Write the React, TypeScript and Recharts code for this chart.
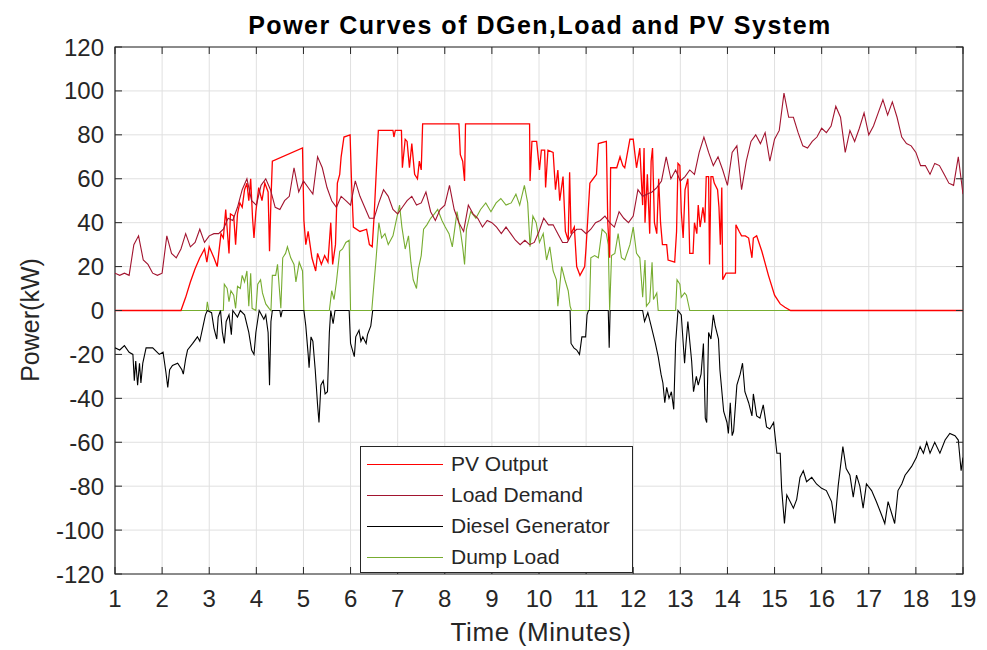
import React from 'react';
import { LineChart, Line, XAxis, YAxis, CartesianGrid, ReferenceArea } from 'recharts';

// time axis (minutes) and power axis (kW) ticks
const minuteTicks = [1, 2, 3, 4, 5, 6, 7, 8, 9, 10, 11, 12, 13, 14, 15, 16, 17, 18, 19];
const powerTicks = [-120, -100, -80, -60, -40, -20, 0, 20, 40, 60, 80, 100, 120];

// load demand sampled every 0.1 min from t = 1
const LOAD_START = 1;
const LOAD_STEP = 0.1;
const loadDemand = [
  17, 16, 17, 16, 30, 34, 23, 21, 17, 16,
  17, 34, 26, 24, 28, 35, 29, 31, 37, 31,
  34, 35, 35, 37, 42, 41, 47, 55, 60, 50,
  48, 57, 60, 55, 47, 46, 50, 52, 65, 54,
  59, 56, 53, 70, 65, 56, 50, 47, 52, 50,
  48, 59, 52, 47, 42, 42, 49, 55, 52, 46,
  44, 47, 50, 52, 48, 49, 54, 45, 41, 46,
  48, 57, 46, 40, 36, 48, 44, 42, 38, 41,
  40, 38, 35, 38, 35, 32, 30, 32, 30, 31,
  36, 42, 39, 39, 35, 31, 31, 35, 37, 37,
  35, 37, 40, 41, 43, 40, 38, 45, 42, 40,
  43, 55, 52, 53, 54, 56, 59, 70, 60, 64,
  59, 61, 64, 62, 72, 79, 72, 66, 70, 64,
  57, 72, 75, 55, 68, 77, 80, 76, 81, 68,
  78, 82, 99, 88, 88, 81, 75, 74, 77, 79,
  83, 81, 84, 93, 88, 72, 82, 77, 83, 90,
  80, 84, 90, 96, 89, 95, 88, 79, 76, 75,
  72, 66, 66, 62, 67, 66, 62, 58, 57, 70,
  53,
];

// [minute, kW] points
const pvOutput: [number, number][] = [
  [1, 0], [2.4, 0], [2.5, 6], [2.6, 13], [2.7, 19], [2.8, 24], [2.9, 28], [2.95, 22], [3.0, 29],
  [3.1, 24], [3.17, 20], [3.25, 35], [3.3, 33], [3.35, 46], [3.42, 26], [3.45, 44], [3.52, 43],
  [3.56, 30], [3.6, 44], [3.65, 49], [3.7, 47], [3.75, 55], [3.8, 58], [3.84, 50], [3.88, 60],
  [3.92, 42], [3.95, 33], [3.99, 45], [4.05, 56], [4.12, 50], [4.18, 58], [4.25, 54], [4.28, 27],
  [4.31, 50], [4.34, 68], [4.98, 74], [5.01, 41], [5.05, 30], [5.1, 36], [5.18, 24], [5.26, 18],
  [5.3, 26], [5.38, 21], [5.45, 25], [5.52, 22], [5.58, 40], [5.62, 21], [5.68, 30], [5.72, 58],
  [5.77, 62], [5.8, 70], [5.86, 79], [5.99, 80], [6.02, 59], [6.06, 38], [6.2, 36], [6.34, 37],
  [6.4, 30], [6.46, 29], [6.5, 43], [6.55, 65], [6.59, 82], [6.9, 82], [6.92, 79], [6.95, 82],
  [7.08, 82], [7.1, 65], [7.16, 78], [7.2, 77], [7.25, 65], [7.3, 76], [7.36, 62], [7.42, 60],
  [7.46, 68], [7.5, 64], [7.53, 85], [8.3, 85], [8.33, 71], [8.38, 68], [8.42, 59], [8.44, 85],
  [9.8, 85], [9.81, 59], [9.85, 77], [9.95, 77], [10.01, 64], [10.05, 73], [10.12, 73], [10.14, 56],
  [10.19, 73], [10.3, 72], [10.35, 55], [10.4, 64], [10.44, 50], [10.51, 61], [10.56, 36], [10.62, 32],
  [10.65, 63], [10.68, 35], [10.75, 38], [10.8, 20], [10.87, 16], [10.97, 20], [11.0, 29], [11.08, 58],
  [11.15, 60], [11.22, 62], [11.26, 76], [11.43, 77], [11.46, 40], [11.5, 24], [11.52, 65], [11.65, 65],
  [11.72, 70], [11.78, 66], [11.82, 65], [11.93, 78], [12.0, 78], [12.07, 65], [12.14, 74], [12.2, 48],
  [12.23, 74], [12.25, 40], [12.3, 62], [12.35, 35], [12.38, 68], [12.41, 74], [12.45, 40], [12.5, 35],
  [12.54, 60], [12.58, 40], [12.62, 30], [12.71, 30], [12.74, 23], [12.88, 22], [12.92, 36], [12.95, 67],
  [12.99, 66], [13.02, 45], [13.06, 33], [13.1, 55], [13.16, 60], [13.2, 26], [13.27, 26], [13.3, 40],
  [13.35, 35], [13.38, 48], [13.42, 38], [13.48, 47], [13.52, 40], [13.55, 61], [13.6, 61], [13.62, 21],
  [13.65, 61], [13.69, 61], [13.72, 58], [13.79, 55], [13.82, 47], [13.85, 30], [13.88, 56], [13.9, 14],
  [13.97, 17], [14.17, 17], [14.18, 39], [14.25, 36], [14.3, 34], [14.38, 34], [14.45, 33], [14.52, 24],
  [14.55, 33], [14.62, 34], [14.73, 27], [14.87, 16], [15.0, 7], [15.12, 3], [15.22, 1.5], [15.34, 0],
  [19, 0],
];

const dieselGenerator: [number, number][] = [
  [1, -17], [1.1, -18], [1.2, -16], [1.3, -19], [1.38, -20], [1.41, -32], [1.44, -23], [1.48, -34],
  [1.52, -24], [1.55, -33], [1.59, -24], [1.66, -17], [1.8, -17], [1.94, -20], [2.02, -19], [2.08, -28],
  [2.12, -35], [2.16, -27], [2.22, -25], [2.33, -24], [2.42, -27], [2.45, -29], [2.5, -22], [2.54, -18],
  [2.65, -15], [2.75, -12], [2.8, -14], [2.86, -8], [2.92, -2], [2.96, 0], [3.05, -1], [3.1, -8],
  [3.16, -13], [3.19, -3], [3.24, 0], [3.28, -10], [3.32, -15], [3.36, -5], [3.42, -2], [3.47, -11],
  [3.5, 0], [3.6, -3], [3.66, 0], [3.75, -2], [3.84, -10], [3.9, -18], [3.95, -20], [3.99, -10],
  [4.06, 0], [4.16, -4], [4.2, -2], [4.25, -10], [4.28, -34], [4.31, -5], [4.34, 0], [4.5, 0],
  [4.52, -3], [4.55, 0], [5.01, 0], [5.05, -7], [5.1, -20], [5.12, -26], [5.16, -12], [5.2, -14],
  [5.25, -27], [5.3, -43], [5.33, -51], [5.37, -34], [5.42, -32], [5.46, -38], [5.51, -37], [5.55, -10],
  [5.58, 0], [5.63, -6], [5.67, 0], [5.97, 0], [6.0, -15], [6.08, -21], [6.11, -12], [6.18, -9],
  [6.22, -14], [6.26, -12], [6.33, -15], [6.36, -11], [6.43, -7], [6.47, 0], [10.66, 0], [10.68, -15],
  [10.74, -17], [10.8, -18], [10.86, -20], [10.91, -12], [10.99, -12], [11.02, -2], [11.05, 0], [11.47, 0],
  [11.49, -17], [11.51, 0], [12.2, 0], [12.24, -5], [12.31, -1], [12.38, -7], [12.47, -15], [12.53, -21],
  [12.59, -29], [12.63, -33], [12.67, -42], [12.71, -35], [12.76, -40], [12.81, -37], [12.86, -45], [12.9, -15],
  [12.95, 0], [13.02, -2], [13.09, -24], [13.12, -15], [13.16, -5], [13.24, -23], [13.28, -37], [13.34, -30],
  [13.38, -34], [13.44, -29], [13.49, -15], [13.53, -49], [13.56, -51], [13.6, -10], [13.65, -13], [13.7, -2],
  [13.74, -7], [13.81, -13], [13.84, -27], [13.92, -46], [13.99, -51], [14.02, -56], [14.06, -42], [14.1, -57],
  [14.13, -55], [14.2, -34], [14.27, -29], [14.32, -24], [14.37, -37], [14.45, -42], [14.52, -48], [14.55, -38],
  [14.62, -48], [14.69, -49], [14.76, -43], [14.83, -53], [14.9, -54], [14.98, -51], [15.05, -65], [15.12, -65],
  [15.15, -81], [15.21, -97], [15.26, -84], [15.33, -87], [15.4, -90], [15.47, -86], [15.54, -76], [15.61, -73],
  [15.68, -78], [15.79, -76], [15.89, -79], [16.0, -81], [16.1, -82], [16.21, -87], [16.28, -97], [16.35, -80],
  [16.45, -62], [16.52, -72], [16.6, -75], [16.67, -85], [16.74, -75], [16.81, -80], [16.88, -90], [16.95, -79],
  [17.06, -82], [17.16, -87], [17.27, -93], [17.34, -97], [17.41, -87], [17.48, -92], [17.55, -97], [17.62, -82],
  [17.7, -79], [17.77, -75], [17.84, -73], [17.91, -71], [18.01, -67], [18.09, -62], [18.16, -65], [18.23, -60],
  [18.3, -65], [18.4, -60], [18.51, -65], [18.62, -59], [18.72, -56], [18.83, -57], [18.9, -59], [18.96, -73],
  [19, -67],
];

const dumpLoad: [number, number][] = [
  [1, 0], [2.94, 0], [2.96, 4], [2.99, 0], [3.3, 0], [3.32, 12], [3.38, 10], [3.42, 4], [3.46, 9],
  [3.52, 7], [3.56, 1], [3.6, 11], [3.66, 10], [3.7, 16], [3.75, 13], [3.8, 18], [3.84, 2], [3.88, 17],
  [3.91, 1], [3.99, 0], [4.03, 12], [4.09, 14], [4.13, 8], [4.2, 3], [4.27, 1], [4.31, 0], [4.34, 16],
  [4.41, 16], [4.45, 21], [4.52, 1], [4.56, 24], [4.62, 26], [4.66, 29], [4.73, 24], [4.8, 21], [4.84, 13],
  [4.91, 22], [4.98, 18], [5.01, 0], [5.55, 0], [5.6, 9], [5.65, 5], [5.7, 13], [5.77, 27], [5.83, 28],
  [5.9, 31], [5.97, 32], [6.0, 0], [6.45, 0], [6.5, 13], [6.54, 23], [6.6, 40], [6.66, 33], [6.73, 35],
  [6.8, 30], [6.9, 34], [6.96, 40], [7.04, 48], [7.09, 38], [7.16, 28], [7.23, 34], [7.28, 22], [7.33, 14],
  [7.4, 10], [7.44, 19], [7.5, 25], [7.55, 37], [7.62, 39], [7.7, 42], [7.78, 44], [7.85, 46], [7.94, 41],
  [8.01, 38], [8.09, 35], [8.16, 29], [8.26, 45], [8.34, 35], [8.38, 29], [8.42, 21], [8.46, 37], [8.55, 45],
  [8.66, 42], [8.76, 46], [8.87, 49], [8.98, 45], [9.09, 49], [9.19, 51], [9.3, 48], [9.41, 49], [9.51, 53],
  [9.59, 48], [9.69, 57], [9.76, 49], [9.81, 29], [9.87, 43], [9.94, 40], [10.01, 31], [10.09, 35], [10.16, 23],
  [10.23, 29], [10.3, 18], [10.37, 14], [10.4, 2], [10.48, 20], [10.55, 14], [10.62, 9], [10.66, 2], [10.69, 0],
  [11.07, 0], [11.1, 24], [11.18, 25], [11.26, 24], [11.34, 37], [11.43, 35], [11.47, 30], [11.5, 0], [11.54, 25],
  [11.61, 26], [11.68, 35], [11.75, 24], [11.82, 23], [11.93, 30], [12.0, 38], [12.07, 26], [12.14, 24], [12.2, 6],
  [12.25, 23], [12.28, 2], [12.35, 4], [12.4, 22], [12.43, 5], [12.5, 8], [12.53, 0], [12.9, 0], [12.93, 14],
  [12.99, 12], [13.02, 6], [13.09, 8], [13.13, 7], [13.2, 0], [19, 0],
];

const series = [
  { name: 'PV Output', color: '#ff0000' },
  { name: 'Load Demand', color: '#a2142f' },
  { name: 'Diesel Generator', color: '#000000' },
  { name: 'Dump Load', color: '#77ac30' },
];

const AXIS = '#262626';
const FONT = '"Liberation Sans", Arial, Helvetica, sans-serif';
const PLOT = { left: 115, right: 963, top: 47, bottom: 574 };

const toRows = (pts: [number, number][]) => pts.map(([t, kw]) => ({ t, kw }));
const pvRows = toRows(pvOutput);
const loadRows = loadDemand.map((kw, i) => ({ t: +(LOAD_START + i * LOAD_STEP).toFixed(2), kw }));
const dieselRows = toRows(dieselGenerator);
const dumpRows = toRows(dumpLoad);

const XTick = (props: any) => {
  const { x, payload } = props;
  return (
    <g>
      <line x1={x} x2={x} y1={PLOT.bottom} y2={PLOT.bottom - 7} stroke={AXIS} />
      <line x1={x} x2={x} y1={PLOT.top} y2={PLOT.top + 7} stroke={AXIS} />
      <text x={x} y={607} textAnchor="middle" fontSize={24} fill={AXIS} fontFamily={FONT}>
        {payload.value}
      </text>
    </g>
  );
};

const YTick = (props: any) => {
  const { y, payload } = props;
  return (
    <g>
      <line x1={PLOT.left} x2={PLOT.left + 7} y1={y} y2={y} stroke={AXIS} />
      <line x1={PLOT.right - 7} x2={PLOT.right} y1={y} y2={y} stroke={AXIS} />
      <text x={104} y={y + 8.5} textAnchor="end" fontSize={24} fill={AXIS} fontFamily={FONT}>
        {payload.value}
      </text>
    </g>
  );
};

const LegendBox: React.FC = () => (
  <div
    style={{
      position: 'absolute',
      left: 360,
      top: 446,
      width: 273,
      height: 127,
      boxSizing: 'border-box',
      border: `1px solid ${AXIS}`,
      background: '#fff',
    }}
  >
    {series.map((s, i) => (
      <div key={s.name} style={{ position: 'absolute', left: 0, top: 17 + i * 31, width: '100%' }}>
        <div style={{ position: 'absolute', left: 6, top: 0, width: 76, height: 1, background: s.color }} />
        <div
          style={{
            position: 'absolute',
            left: 90,
            top: -12,
            fontSize: 21,
            lineHeight: '24px',
            color: AXIS,
            whiteSpace: 'nowrap',
          }}
        >
          {s.name}
        </div>
      </div>
    ))}
  </div>
);

export default function App() {
  return (
    <div style={{ position: 'absolute', left: 0, top: 0, width: 987, height: 650, background: '#fff', fontFamily: FONT }}>
      <LineChart width={987} height={650} margin={{ top: 47, right: 24, bottom: 46, left: 55 }}>
        <CartesianGrid stroke="#e0e0e0" strokeWidth={1} />
        <XAxis
          type="number"
          dataKey="t"
          domain={[1, 19]}
          ticks={minuteTicks}
          interval={0}
          allowDataOverflow
          axisLine={false}
          tickLine={false}
          tickSize={0}
          height={30}
          tick={<XTick />}
        />
        <YAxis
          type="number"
          domain={[-120, 120]}
          ticks={powerTicks}
          interval={0}
          allowDataOverflow
          axisLine={false}
          tickLine={false}
          tickSize={0}
          width={60}
          tick={<YTick />}
        />
        <ReferenceArea x1={1} x2={19} y1={-120} y2={120} fill="none" fillOpacity={0} stroke={AXIS} strokeWidth={1.2} ifOverflow="visible" />
        {/* dump load goes underneath so the zero line shows the PV / diesel colour */}
        <Line data={dumpRows} dataKey="kw" name="Dump Load" stroke={series[3].color} strokeWidth={1.1} dot={false} isAnimationActive={false} type="linear" />
        <Line data={pvRows} dataKey="kw" name="PV Output" stroke={series[0].color} strokeWidth={1.3} dot={false} isAnimationActive={false} type="linear" />
        <Line data={loadRows} dataKey="kw" name="Load Demand" stroke={series[1].color} strokeWidth={1.1} dot={false} isAnimationActive={false} type="linear" />
        <Line data={dieselRows} dataKey="kw" name="Diesel Generator" stroke={series[2].color} strokeWidth={1.1} dot={false} isAnimationActive={false} type="linear" />
      </LineChart>

      <div
        style={{
          position: 'absolute',
          left: 540,
          top: 13,
          transform: 'translateX(-50%)',
          fontSize: 25,
          letterSpacing: 1.5,
          lineHeight: '24px',
          fontWeight: 'bold',
          color: '#000',
          whiteSpace: 'nowrap',
        }}
      >
        Power Curves of DGen,Load and PV System
      </div>
      <div
        style={{
          position: 'absolute',
          left: 30,
          top: 320,
          transform: 'translate(-50%, -50%) rotate(-90deg)',
          fontSize: 25,
          lineHeight: '25px',
          color: AXIS,
          whiteSpace: 'nowrap',
        }}
      >
        Power(kW)
      </div>
      <div
        style={{
          position: 'absolute',
          left: 541,
          top: 620,
          transform: 'translateX(-50%)',
          fontSize: 26,
          letterSpacing: 0.6,
          lineHeight: '25px',
          color: AXIS,
          whiteSpace: 'nowrap',
        }}
      >
        Time (Minutes)
      </div>
      <LegendBox />
    </div>
  );
}
